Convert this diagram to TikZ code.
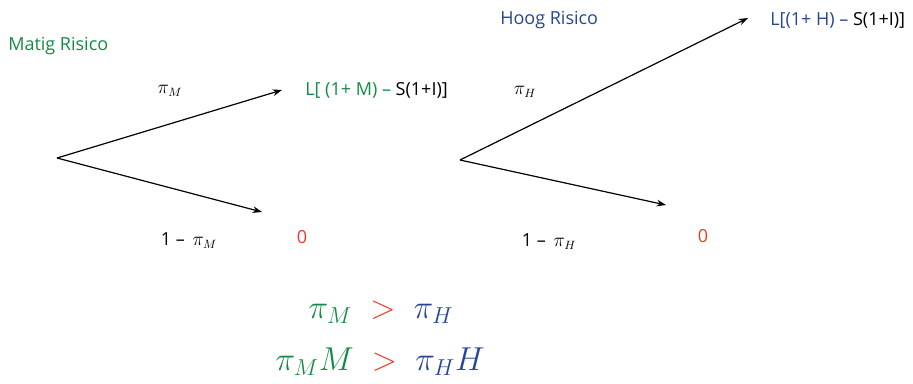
\documentclass[tikz,border=0pt]{standalone}
\usepackage{fontspec}
\setmainfont{Open Sans}
\usetikzlibrary{arrows.meta}
\definecolor{mgreen}{RGB}{20,140,70}
\definecolor{hblue}{RGB}{40,70,150}
\definecolor{zred}{RGB}{235,60,40}
\tikzset{
  arr/.style={-{Stealth[length=7pt,width=5pt]}, line width=0.9pt},
  lbl/.style={inner sep=0pt, font=\fontsize{13.5}{15}\selectfont},
  big/.style={inner sep=0pt, font=\fontsize{26}{30}\selectfont}
}
\begin{document}
\begin{tikzpicture}[x=0.75pt,y=-0.75pt]
\useasboundingbox (0,0) rectangle (913,383);
% left tree
\node[lbl, text=mgreen, anchor=west] (mr) at (8,46) {Matig Risico};
\coordinate (r1) at (57,158);
\coordinate (u1) at (282,90);
\coordinate (d1) at (262,212);
\draw[arr] (r1) -- (u1);
\draw[arr] (r1) -- (d1);
\node[lbl] (pm) at (170,91) {$\pi_M$};
\node[lbl, anchor=west] (lm) at (305,90) {\textcolor{mgreen}{L[ (1+ M) –} S(1+I)]};
\node[lbl] (qm) at (189,241) {1 – \,$\pi_M$};
\node[lbl, text=zred] (zm) at (302,237) {0};
% right tree
\node[lbl, text=hblue, anchor=west] (hr) at (500,20) {Hoog Risico};
\coordinate (r2) at (460,160);
\coordinate (u2) at (748,18);
\coordinate (d2) at (666,205);
\draw[arr] (r2) -- (u2);
\draw[arr] (r2) -- (d2);
\node[lbl] (ph) at (525,92) {$\pi_H$};
\node[lbl, anchor=west] (lh) at (770,20) {\textcolor{hblue}{L[(1+ H) –} S(1+I)]};
\node[lbl] (qh) at (549,242) {1 – \,$\pi_H$};
\node[lbl, text=zred] (zh) at (703,236) {0};
% inequalities
\node[big] (i1) at (381,312) {$\color{mgreen}\pi_M\ \color{zred}>\ \color{hblue}\pi_H$};
\node[big] (i2) at (380,362) {$\color{mgreen}\pi_M M\ \color{zred}>\ \color{hblue}\pi_H H$};
\end{tikzpicture}
\end{document}
